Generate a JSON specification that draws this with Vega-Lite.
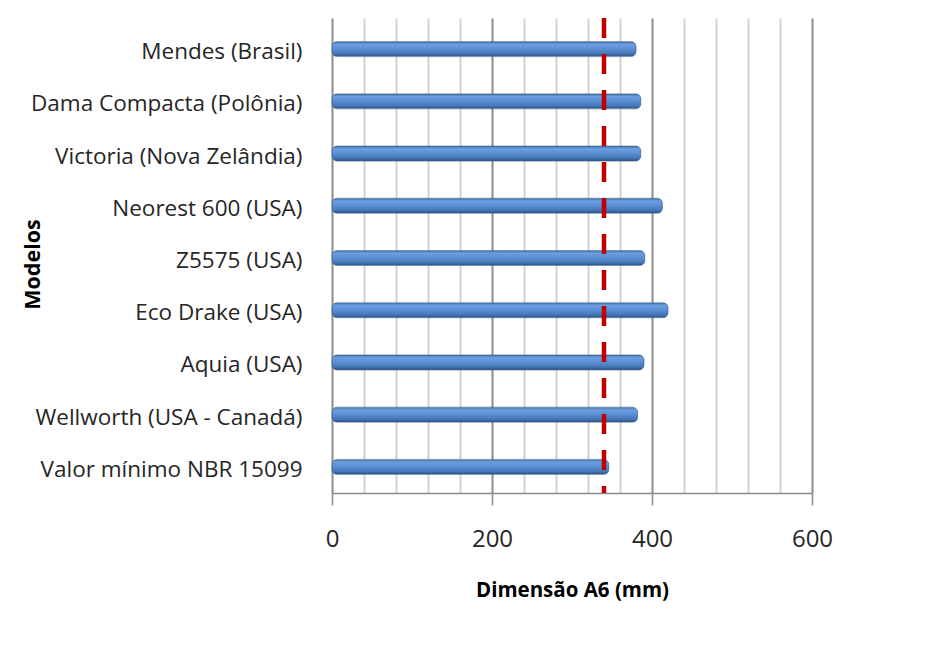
{
  "$schema": "https://vega.github.io/schema/vega-lite/v6.json",
  "autosize": "none",
  "width": 480,
  "height": 475,
  "padding": {"left": 332, "top": 18, "right": 118, "bottom": 153},
  "background": "#ffffff",
  "config": {
    "font": "Open Sans",
    "view": {"stroke": null}
  },
  "data": {
    "values": [
      {"modelo": "Mendes (Brasil)", "a6": 380},
      {"modelo": "Dama Compacta (Polônia)", "a6": 386},
      {"modelo": "Victoria (Nova Zelândia)", "a6": 386},
      {"modelo": "Neorest 600 (USA)", "a6": 413},
      {"modelo": "Z5575 (USA)", "a6": 391},
      {"modelo": "Eco Drake (USA)", "a6": 420},
      {"modelo": "Aquia (USA)", "a6": 390},
      {"modelo": "Wellworth (USA - Canadá)", "a6": 382},
      {"modelo": "Valor mínimo NBR 15099", "a6": 346}
    ]
  },
  "layer": [
    {
      "mark": {
        "type": "bar",
        "size": 15,
        "cornerRadius": 5,
        "stroke": "#3a6394",
        "strokeWidth": 0.6,
        "color": {
          "gradient": "linear",
          "x1": 0, "y1": 0, "x2": 0, "y2": 1,
          "stops": [
            {"offset": 0, "color": "#44719f"},
            {"offset": 0.18, "color": "#6c9ee0"},
            {"offset": 0.5, "color": "#5a8dd2"},
            {"offset": 0.8, "color": "#4576b6"},
            {"offset": 1, "color": "#2a4f80"}
          ]
        }
      },
      "encoding": {
        "y": {
          "field": "modelo",
          "type": "nominal",
          "sort": null,
          "scale": {"paddingInner": 0, "paddingOuter": 0.048, "align": 1},
          "axis": {
            "title": "Modelos",
            "titleFont": "Open Sans",
            "titleFontSize": 21.5,
            "titleFontWeight": "bold",
            "titleColor": "#000000",
            "titleX": -299,
            "titleY": 246,
            "titleAlign": "center",
            "titleBaseline": "middle",
            "titleAngle": 270,
            "labelFont": "Open Sans",
            "labelFontSize": 22.5,
            "labelColor": "#262626",
            "labelPadding": 30,
            "labelOffset": 3,
            "labelLimit": 400,
            "labelOverlap": false,
            "ticks": false,
            "tickSize": 0,
            "domain": false,
            "grid": false
          }
        },
        "x": {
          "field": "a6",
          "type": "quantitative",
          "scale": {"domain": [0, 600], "nice": false},
          "axis": {
            "title": "Dimensão A6 (mm)",
            "titleFont": "Open Sans",
            "titleFontSize": 20.5,
            "titleFontWeight": "bold",
            "titleColor": "#000000",
            "titleY": 97,
            "titleBaseline": "middle",
            "values": [0, 40, 80, 120, 160, 200, 240, 280, 320, 360, 400, 440, 480, 520, 560, 600],
            "tickCount": 20,
            "labelExpr": "datum.value % 200 === 0 ? datum.label : ''",
            "labelOverlap": false,
            "labelFont": "Open Sans",
            "labelFontSize": 24,
            "labelColor": "#262626",
            "labelPadding": 22,
            "labelFlush": false,
            "tickSize": 12,
            "tickWidth": 1.5,
            "tickColor": {"condition": {"test": "datum.value % 200 === 0", "value": "#8a8a8a"}, "value": "transparent"},
            "domainColor": "#8a8a8a",
            "domainWidth": 1.5,
            "grid": true,
            "gridWidth": 2,
            "gridColor": {"condition": {"test": "datum.value % 200 === 0", "value": "#8c8c8c"}, "value": "#d2d2d2"}
          }
        }
      }
    },
    {
      "data": {"values": [{"minimo": 340}]},
      "mark": {"type": "rule", "color": "#c00000", "strokeWidth": 4.5, "strokeDash": [20, 16]},
      "encoding": {
        "x": {"field": "minimo", "type": "quantitative"}
      }
    }
  ]
}
